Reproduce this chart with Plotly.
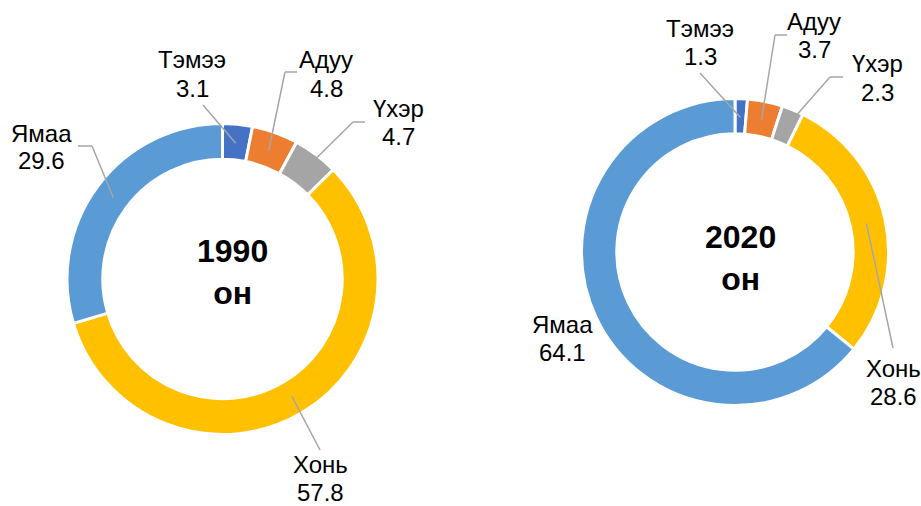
import math
import plotly.graph_objects as go

W, H = 921, 506

categories = ["Тэмээ", "Адуу", "Үхэр", "Хонь", "Ямаа"]
values_1990 = [3.1, 4.8, 4.7, 57.8, 29.6]
values_2020 = [1.3, 3.7, 2.3, 28.6, 64.1]
center_1990 = "1990<br>он"
center_2020 = "2020<br>он"
colors = ["#4472C4", "#ED7D31", "#A5A5A5", "#FFC000", "#5B9BD5"]

FONT = "Arial, Liberation Sans, sans-serif"
LINE_GAP = 28  # pixel distance between the two lines of a label


def px(x):
    return x / W


def py(y):
    return 1 - y / H


donuts = [
    dict(vals=values_1990, cx=222.5, cy=279.0, r=155.5, hole=0.77,
         center_text=center_1990, ctext_pos=(232, 271.5),
         label_pos=[(192, 74), (326, 74), (398, 122), (320, 478), (41, 147)],
         leader=[[(203, 105)], [(297, 72), (285, 72)], [(365, 122), (353, 122)],
                 [(320, 450)], [(78, 146), (92, 146)]]),
    dict(vals=values_2020, cx=735.0, cy=252.0, r=153.5, hole=0.77,
         center_text=center_2020, ctext_pos=(740, 258),
         label_pos=[(700, 42), (814, 36), (877, 78), (893, 382), (562, 338)],
         leader=[[(700, 73)], [(787, 35), (775, 35)], [(843, 77), (830, 77)],
                 [(893, 348)], None]),
]

fig = go.Figure()
annotations = []
shapes = []

for d in donuts:
    cx, cy, r = d["cx"], d["cy"], d["r"]
    fig.add_trace(go.Pie(
        labels=categories,
        values=d["vals"],
        hole=d["hole"],
        sort=False,
        direction="clockwise",
        rotation=0,
        marker=dict(colors=colors, line=dict(color="white", width=3)),
        textinfo="none",
        hoverinfo="label+value",
        showlegend=False,
        domain=dict(x=[px(cx - r), px(cx + r)], y=[py(cy + r), py(cy - r)]),
    ))
    annotations.append(dict(
        x=px(d["ctext_pos"][0]), y=py(d["ctext_pos"][1]), xref="paper", yref="paper",
        text="<b>" + d["center_text"] + "</b>", showarrow=False,
        xanchor="center", yanchor="middle",
        font=dict(family=FONT, size=32, color="#000000"),
    ))
    total = sum(d["vals"])
    r_out = r - 1.5
    r_mid = (r_out + r_out * d["hole"]) / 2
    cum = 0.0
    for i, (cat, v) in enumerate(zip(categories, d["vals"])):
        mid = (cum + v / 2) / total * 2 * math.pi
        cum += v
        tip = (cx + r_mid * math.sin(mid), cy - r_mid * math.cos(mid))
        lx, ly = d["label_pos"][i]
        for txt, yy in ((cat, ly - LINE_GAP / 2), (str(v), ly + LINE_GAP / 2)):
            annotations.append(dict(
                x=px(lx), y=py(yy), xref="paper", yref="paper",
                text=txt, showarrow=False,
                xanchor="center", yanchor="middle",
                font=dict(family=FONT, size=24, color="#000000"),
            ))
        pts = d["leader"][i]
        if pts is None:
            continue
        pts = pts + [tip]
        for a, b in zip(pts[:-1], pts[1:]):
            if a == b:
                continue
            shapes.append(dict(
                type="line", xref="paper", yref="paper",
                x0=px(a[0]), y0=py(a[1]), x1=px(b[0]), y1=py(b[1]),
                line=dict(color="#A6A6A6", width=1.5),
            ))

fig.update_layout(
    width=W, height=H,
    margin=dict(l=0, r=0, t=0, b=0),
    paper_bgcolor="white",
    plot_bgcolor="white",
    annotations=annotations,
    shapes=shapes,
    font=dict(family=FONT),
)

fig.write_html(
    "out.html",
    config={"displayModeBar": False},
    post_script="document.body.style.margin='0';document.body.style.overflow='hidden';",
)
